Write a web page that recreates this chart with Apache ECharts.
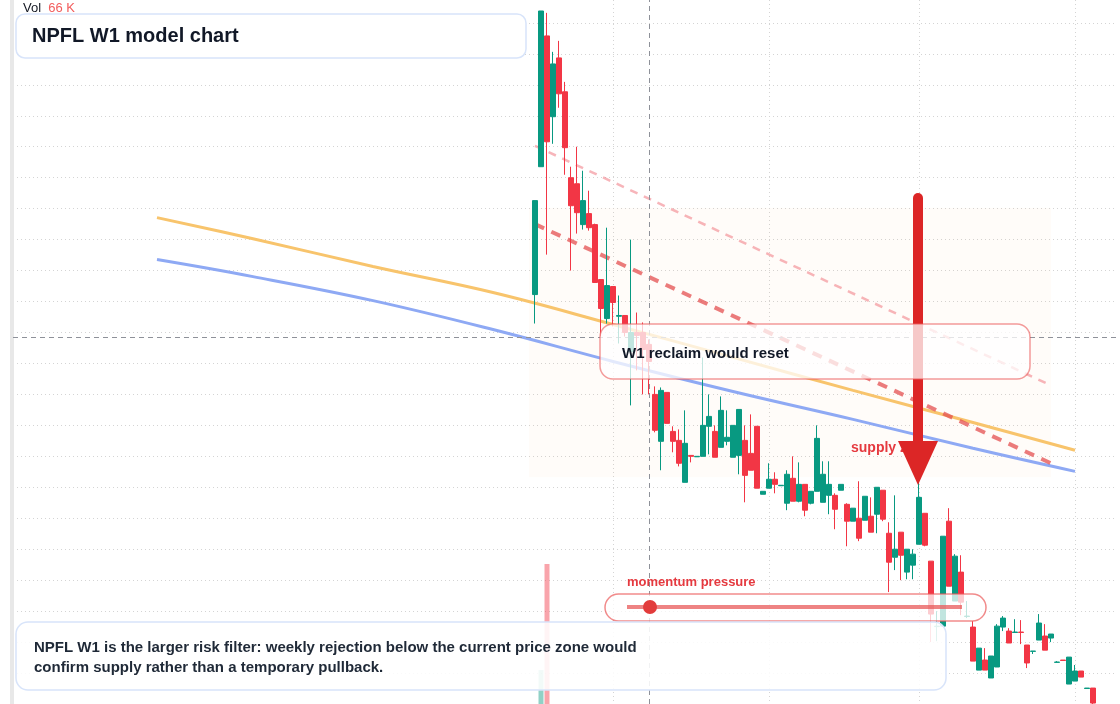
<!DOCTYPE html>
<html>
<head>
<meta charset="utf-8">
<script src="https://cdn.jsdelivr.net/npm/echarts@6/dist/echarts.min.js"></script>
<style>
html,body{margin:0;padding:0;background:#fff}
#main{width:1120px;height:704px}
</style>
</head>
<body>
<div id="main"></div>
<script>
// weekly bars, [open, close, low, high]
var candles = [
  [126.45,132.52,124.58,132.52],[134.71,144.77,134.71,144.77],[143.16,136.32,129.03,144.65],[137.94,141.35,136.19,142.13],
  [141.74,139.42,138.52,142.84],[139.55,135.94,134.19,140.19],[134.00,132.19,128.00,134.71],[133.61,131.74,130.39,136.00],
  [130.97,132.52,130.65,134.45],[131.68,130.77,130.58,133.16],[130.97,127.23,127.23,131.03],[127.42,125.55,123.74,127.42],
  [124.90,127.03,124.58,130.77],[126.97,125.94,124.39,126.97],[125.05,125.10,123.29,126.39],[125.10,124.00,123.74,125.10],
  [122.77,124.00,119.29,130.00],[124.00,123.81,121.55,125.29],[124.00,122.90,120.00,124.65],[123.23,122.13,120.00,123.55],
  [120.00,117.68,117.55,120.52],[116.97,120.26,115.10,120.45],[120.13,118.13,118.13,120.13],[117.61,116.97,116.26,117.94],
  [117.03,115.55,115.35,117.74],[114.32,116.84,114.32,118.97],[116.06,116.00,115.61,116.06],[115.97,116.00,115.97,116.00],
  [116.00,118.00,116.00,122.39],[117.94,118.58,116.13,120.00],[117.61,115.94,115.94,118.00],[116.58,118.97,116.58,119.87],
  [116.97,117.23,116.71,118.97],[115.94,118.00,115.94,118.00],[116.06,119.03,114.84,119.03],[117.03,114.77,113.03,118.00],
  [116.19,115.10,115.10,118.71],[117.94,113.94,113.94,117.94],[113.55,113.74,113.55,113.74],[113.94,114.52,113.94,115.55],
  [114.52,114.19,113.61,114.97],[114.10,114.13,114.10,114.13],[112.97,114.84,112.52,115.10],[114.58,113.10,113.10,116.00],
  [113.10,114.19,113.03,115.61],[114.19,112.52,112.13,114.19],[112.97,113.74,112.90,113.74],[113.74,117.16,113.74,118.00],
  [113.03,114.84,113.03,115.68],[113.48,114.19,112.26,115.68],[113.48,112.58,111.29,113.61],[113.81,114.19,113.81,114.19],
  [112.90,111.81,110.19,112.97],[111.81,112.65,111.81,112.65],[112.00,110.71,110.52,114.39],[111.87,113.42,111.87,113.42],
  [112.13,111.10,111.10,113.35],[112.26,114.00,111.03,114.00],[113.81,111.94,111.81,113.81],[111.03,109.16,107.23,111.74],
  [109.48,110.00,108.65,113.48],[111.10,109.61,108.00,111.10],[108.52,110.00,108.06,110.00],[108.97,109.68,108.06,110.00],
  [110.32,113.35,110.32,114.39],[112.32,110.26,110.19,112.32],[109.23,105.81,104.00,109.23],[105.00,105.03,104.06,106.00],
  [105.03,110.84,105.03,110.84],[111.81,107.61,107.61,112.65],[106.65,109.55,106.65,109.68],[108.52,106.58,105.74,109.61],
  [105.65,105.68,105.55,106.65],[104.97,102.77,102.77,105.35],[102.19,103.61,102.19,103.61],[102.84,102.19,102.19,103.61],
  [101.68,103.10,101.68,103.10],[102.39,105.03,102.39,105.16],[104.97,105.55,104.71,105.68],[104.71,103.94,103.94,104.90],
  [104.62,104.65,104.62,105.48],[104.65,104.62,103.87,105.42],[103.81,102.65,102.32,103.81],[103.40,103.42,103.23,103.42],
  [104.13,105.23,104.13,105.81],[104.39,103.48,103.48,105.16],[104.26,104.52,104.00,104.52],[102.69,102.71,102.69,102.77],
  [102.84,102.81,102.81,102.84],[101.29,103.03,101.29,103.03],[101.48,102.13,101.48,102.52],[102.13,101.74,101.74,102.13],
  [101.00,101.03,101.00,101.03],[101.03,100.06,100.00,101.03]
];
var volumes = [0, 16000, 66000];

// slow / fast weekly averages, [category index, value]
var maSlow = [[24,131.42],[40,130.06],[60,128.26],[80,126.58],[100,124.52],[120,122.39],[140,120.26],[160,118.19],[177,116.39]];
var maFast = [[24,128.71],[40,127.61],[60,126.06],[80,124.19],[100,122.13],[120,120.19],[140,118.39],[160,116.52],[177,115.03]];

// falling channel drawn over the sell-off
var channelUpper = [[87,136.06],[173,120.58]];
var channelLower = [[87,131.00],[173,115.55]];
var zone = {from: 86, to: 173, top: 132.06, bottom: 114.65};
var crossIndex = 106, crossPrice = 123.68;
var monthMarks = [100, 126, 151, 177];

var firstBar = 87, totalBars = 185;
var dates = [];
var d0 = new Date(Date.UTC(2021, 0, 4));
for (var i = 0; i < totalBars; i++) {
  var d = new Date(d0.getTime() + i * 7 * 86400000);
  dates.push(d.toISOString().slice(0, 10));
}
var candleData = [], volData = [];
for (var i = 0; i < totalBars; i++) {
  var k = i - firstBar;
  candleData.push(k >= 0 && k < candles.length ? candles[k] : '-');
  if (k >= 0 && k < candles.length) {
    var c = candles[k];
    volData.push({value: volumes[k] || 0, itemStyle: {color: c[1] >= c[0] ? 'rgba(8,153,129,0.45)' : 'rgba(242,54,69,0.45)'}});
  } else volData.push('-');
}

var UP = '#089981', DOWN = '#f23645';
var FONT = "'Liberation Sans', Arial, sans-serif";
var GRIDLINE = {color: '#d4d4d4', type: [1, 3], width: 1};

var myChart = echarts.init(document.getElementById('main'));
var option = {
  animation: false,
  backgroundColor: '#ffffff',
  grid: {left: 13, right: 3, top: 0, height: 705, containLabel: false},
  xAxis: {
    type: 'category',
    data: dates,
    boundaryGap: false,
    axisLine: {show: false},
    axisTick: {show: false},
    axisLabel: {show: false},
    splitLine: {
      show: true,
      interval: function (idx) { return monthMarks.indexOf(idx) >= 0; },
      lineStyle: GRIDLINE
    }
  },
  yAxis: [{
    type: 'value',
    min: 100,
    max: 145.48,
    interval: 2,
    position: 'left',
    offset: 1,
    axisLine: {show: true, lineStyle: {color: '#e8e8e8', width: 4}},
    axisTick: {show: false},
    axisLabel: {show: false},
    splitLine: {show: true, showMaxLine: false, showMinLine: false, lineStyle: GRIDLINE}
  }, {
    type: 'value',
    min: 0,
    max: 332000,
    show: false,
    splitLine: {show: false}
  }],
  series: [
    {
      type: 'line', name: 'MA slow', data: maSlow, smooth: 0.4, showSymbol: false, z: 3,
      lineStyle: {color: '#f8c46c', width: 3}
    },
    {
      type: 'line', name: 'MA fast', data: maFast, smooth: 0.4, showSymbol: false, z: 3,
      lineStyle: {color: '#8ea9f4', width: 3}
    },
    {
      type: 'line', name: 'channel upper', data: channelUpper, showSymbol: false, z: 4,
      lineStyle: {color: 'rgba(240,120,130,0.55)', width: 2.5, type: [8, 7]}
    },
    {
      type: 'line', name: 'channel lower', data: channelLower, showSymbol: false, z: 4,
      lineStyle: {color: 'rgba(228,80,80,0.75)', width: 4, type: [10, 8]}
    },
    {
      type: 'candlestick',
      name: 'NPFL W1',
      data: candleData,
      barWidth: 5,
      z: 5,
      itemStyle: {color: UP, color0: DOWN, borderColor: UP, borderColor0: DOWN, borderWidth: 1},
      markArea: {
        silent: true,
        itemStyle: {color: 'rgba(245,175,120,0.045)'},
        data: [[{xAxis: zone.from, yAxis: zone.top}, {xAxis: zone.to, yAxis: zone.bottom}]]
      },
      markLine: {
        silent: true,
        symbol: ['none', 'none'],
        label: {show: false},
        lineStyle: {color: '#8e9199', width: 1, type: [5, 4]},
        data: [{xAxis: crossIndex}, {yAxis: crossPrice}]
      }
    },
    {
      type: 'bar', name: 'Vol', data: volData, yAxisIndex: 1, barWidth: 5, z: 4
    }
  ],
  graphic: [
    {type: 'text', left: 23, top: 2, z: 100, style: {
      text: '{a|Vol}  {b|66 K}', font: '13px ' + FONT,
      rich: {a: {fill: '#131722', font: '13px ' + FONT}, b: {fill: '#f25c5c', font: '13px ' + FONT}}
    }},
    {type: 'rect', z: 100, shape: {x: 16, y: 14, width: 510, height: 44, r: 9},
      style: {fill: '#ffffff', stroke: '#d8e4fa', lineWidth: 1.5}},
    {type: 'text', z: 101, x: 32, y: 36, style: {
      text: 'NPFL W1 model chart', font: 'bold 20px ' + FONT, fill: '#111827', verticalAlign: 'middle'}},

    {type: 'text', z: 90, x: 851, y: 448, style: {
      text: 'supply zone', font: 'bold 14px ' + FONT, fill: '#e5393f', verticalAlign: 'middle'}},
    {type: 'line', z: 95, shape: {x1: 918, y1: 198, x2: 918, y2: 446},
      style: {stroke: '#dc2626', lineWidth: 10, lineCap: 'round'}},
    {type: 'polygon', z: 95, shape: {points: [[898, 441], [938, 441], [918, 485]]},
      style: {fill: '#dc2626'}},

    {type: 'rect', z: 100, shape: {x: 600, y: 324, width: 430, height: 55, r: 13},
      style: {fill: 'rgba(255,255,255,0.75)', stroke: 'rgba(235,90,90,0.6)', lineWidth: 1.5}},
    {type: 'text', z: 101, x: 622, y: 354, style: {
      text: 'W1 reclaim would reset', font: 'bold 15px ' + FONT, fill: '#111827', verticalAlign: 'middle'}},

    {type: 'text', z: 101, x: 627, y: 582, style: {
      text: 'momentum pressure', font: 'bold 13px ' + FONT, fill: '#e5393f', verticalAlign: 'middle'}},
    {type: 'rect', z: 100, shape: {x: 605, y: 594, width: 381, height: 27, r: 13.5},
      style: {fill: 'rgba(255,255,255,0.75)', stroke: 'rgba(235,90,90,0.7)', lineWidth: 1.5}},
    {type: 'line', z: 101, shape: {x1: 627, y1: 607, x2: 962, y2: 607},
      style: {stroke: 'rgba(232,90,90,0.75)', lineWidth: 4}},
    {type: 'circle', z: 102, shape: {cx: 650, cy: 607, r: 7}, style: {fill: '#e23b3b'}},

    {type: 'rect', z: 100, shape: {x: 16, y: 622, width: 930, height: 68, r: 12},
      style: {fill: 'rgba(255,255,255,0.88)', stroke: '#d8e4fa', lineWidth: 1.5}},
    {type: 'text', z: 101, x: 34, y: 658, style: {
      text: 'NPFL W1 is the larger risk filter: weekly rejection below the current price zone would\nconfirm supply rather than a temporary pullback.',
      font: 'bold 15px ' + FONT, fill: '#1f2937', lineHeight: 20, verticalAlign: 'middle'}}
  ]
};
myChart.setOption(option);
</script>
</body>
</html>
